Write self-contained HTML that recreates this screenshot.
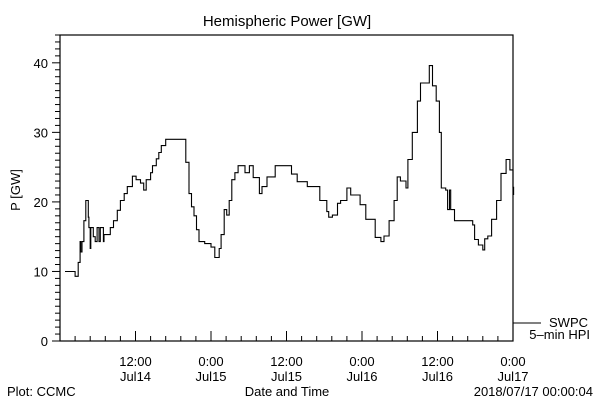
<!DOCTYPE html>
<html><head><meta charset="utf-8"><style>
body{margin:0;background:#fff;}
svg{display:block;font-family:"Liberation Sans",sans-serif;}
text{fill:#000;font-size:13px;}
</style></head><body>
<svg width="600" height="400" viewBox="0 0 600 400">
<rect x="0" y="0" width="600" height="400" fill="#fff"/>
<text x="287" y="26" text-anchor="middle" style="font-size:15px">Hemispheric Power [GW]</text>
<g id="axes"></g>
<g id="series"></g>
<line x1="513" y1="323" x2="541" y2="323" stroke="#000"/>
<text x="588" y="327" text-anchor="end">SWPC</text>
<text x="590" y="339" text-anchor="end">5–min HPI</text>
<text x="20" y="190" text-anchor="middle" transform="rotate(-90 20 190)">P [GW]</text>
<text x="287" y="396" text-anchor="middle">Date and Time</text>
<text x="7" y="396">Plot: CCMC</text>
<text x="593" y="396" text-anchor="end">2018/07/17 00:00:04</text>
</svg>
<script>
const hours=[0.8,2.4,2.4,2.7,2.9,3.2,3.3,3.5,3.8,4.1,4.3,4.5,4.6,4.8,4.9,5.3,5.6,5.9,6.2,6.4,6.9,7.0,7.7,8.0,8.5,9.1,9.6,10.2,10.7,11.5,12.1,12.8,13.3,13.7,14.4,14.7,15.3,15.7,16.1,16.8,19.5,20.0,20.5,20.9,21.3,21.7,22.1,23.0,24.0,24.6,25.3,25.6,26.1,26.5,26.9,27.3,27.8,28.3,28.9,29.4,30.1,30.7,31.7,32.1,32.9,34.2,36.8,37.7,39.3,41.3,42.4,42.7,43.3,44.1,44.6,45.6,46.2,47.7,48.6,50.1,51.0,51.5,52.3,53.1,53.6,54.1,54.9,55.0,55.3,56.0,56.8,57.3,58.7,59.2,59.8,60.3,60.6,61.3,61.6,61.9,62.1,62.7,65.6,65.9,66.5,67.2,67.5,68.0,68.6,69.4,70.1,70.9,71.5,72.0,72.1];
const power=[10,10,9.3,9.3,11.3,14.3,12.8,14.3,17.3,20.2,20.2,17.8,16.3,13.3,16.3,15,14.3,16.3,14.3,16.3,14.3,15.3,15.3,16.3,17.3,18.8,20.2,21.2,22.2,23.7,23.2,22.7,21.7,23.2,24.2,25.2,26.2,27.1,28.1,29,29,25.7,21.2,19.3,18,16,14.3,14,13.5,12,13.3,15.3,18.9,18.1,20.2,23.2,24.2,25.2,25.2,24.2,25.2,23.5,21.2,22.2,23.6,25.2,24,22.9,22.2,20.2,18.6,17.8,18.1,19.8,20.2,22,21,19.6,17.5,14.9,14.3,15.1,17.3,20.2,23.6,23,23,22,26.1,30,34.5,37.1,39.6,36.7,34.5,30,22,21.7,18.9,21.7,18.9,17.3,16.7,14.6,13.8,13.1,14.7,15.1,17.5,20.2,24.1,26.1,24.6,22.1,21];
const yTickLabels=["0","10","20","30","40"];
const xTickLabels=[["12:00","Jul14"],["0:00","Jul15"],["12:00","Jul15"],["0:00","Jul16"],["12:00","Jul16"],["0:00","Jul17"]];
const X0=60,X1=513,Y0=341,Y1=35,HMAX=72,VMAX=44;
const xs=h=>X0+(X1-X0)*h/HMAX;
const ys=v=>Y0-(Y0-Y1)*v/VMAX;
const NS="http://www.w3.org/2000/svg";
const ax=document.getElementById('axes');
function mk(tag,attrs,parent){const e=document.createElementNS(NS,tag);for(const k in attrs)e.setAttribute(k,attrs[k]);parent.appendChild(e);return e;}
const frame=mk('rect',{x:X0,y:Y1,width:X1-X0,height:Y0-Y1,fill:'none',stroke:'#000','stroke-width':1.2},ax);


for(let v=0;v<=VMAX;v++){
  const y=ys(v);const major=v%10===0;
  const t=mk('line',{x1:major?X0-8:X0-5,x2:X0,y1:y,y2:y,stroke:'#000'},ax);
  
  
  if(major){
    const l=mk('text',{x:X0-12,y:y+5,'text-anchor':'end'},ax);l.textContent=yTickLabels[v/10];
    
    
  }
}
for(let i=0;i<=30;i++){
  const h=i*2.4;const x=xs(h);const major=i%5===0;
  const t=mk('line',{x1:x,x2:x,y1:Y0,y2:major?Y0-10:Y0-5,stroke:'#000'},ax);
  
  
  if(major&&i>0){
    const lab=xTickLabels[i/5-1];
    const a=mk('text',{x:x,y:366,'text-anchor':'middle'},ax);a.textContent=lab[0];
    
    
    const b=mk('text',{x:x,y:381,'text-anchor':'middle'},ax);b.textContent=lab[1];
    
    
  }
}
let d='';
hours.forEach((h,i)=>{
  const x=xs(h).toFixed(1),y=ys(power[i]).toFixed(1);
  if(i===0)d+='M'+x+','+y;
  else d+=' H'+x+' V'+y;
});
const pl=mk('path',{d:d,fill:'none',stroke:'#000','stroke-width':1.1},document.getElementById('series'));


</script>
</body></html>
